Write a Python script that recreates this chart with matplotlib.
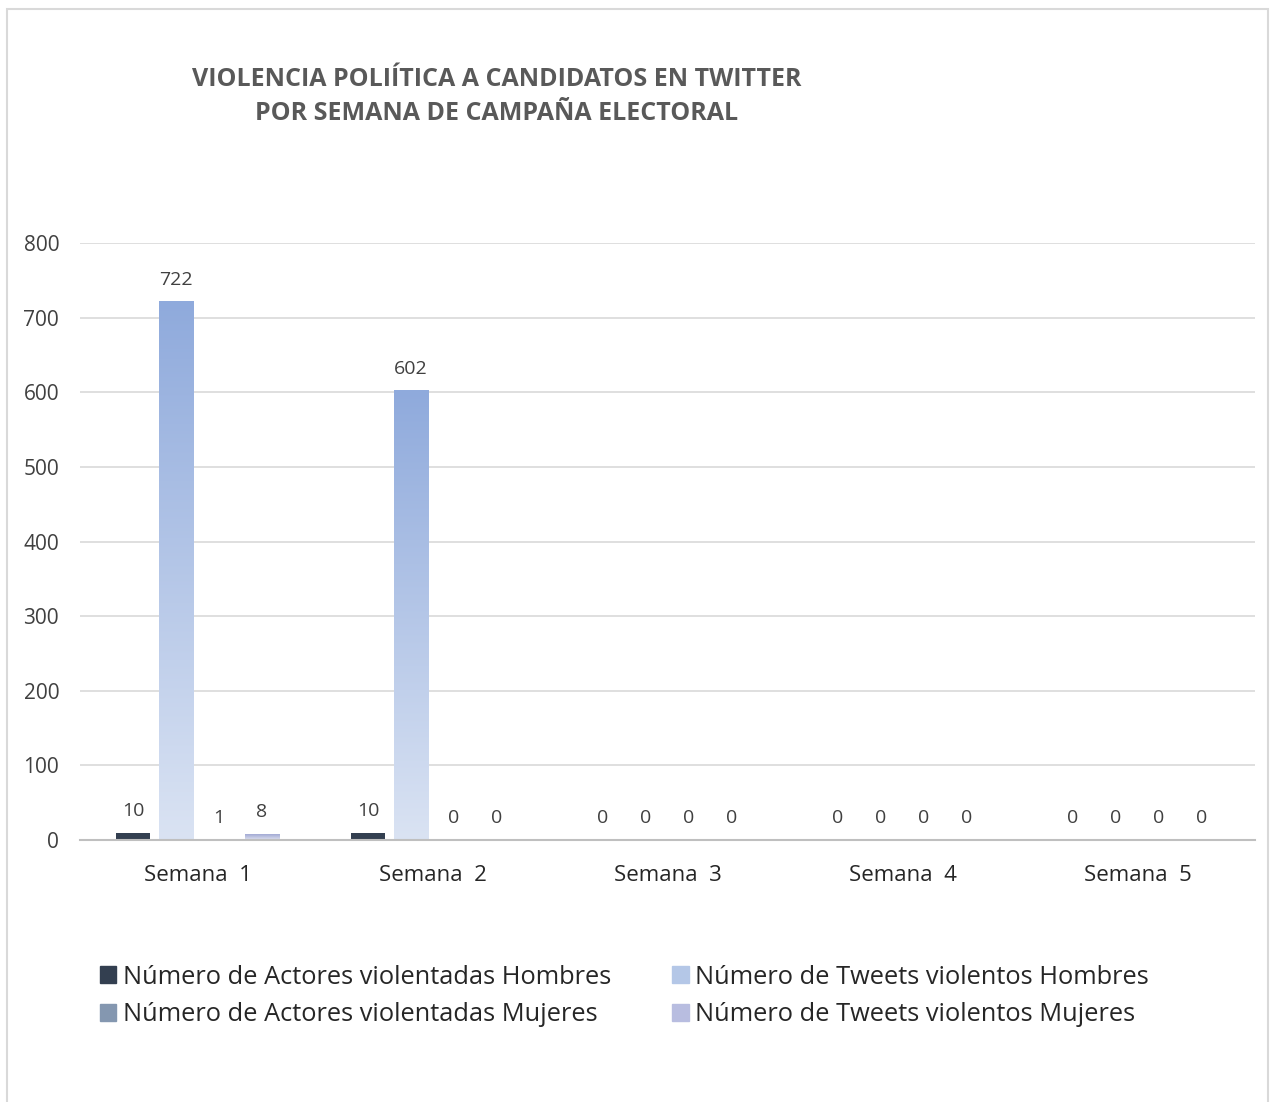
import matplotlib.pyplot as plt
import numpy as np
from matplotlib.patches import Rectangle

plt.rcParams['font.family'] = ['Open Sans', 'DejaVu Sans']

semanas = ['Semana  1', 'Semana  2', 'Semana  3', 'Semana  4', 'Semana  5']
actores_hombres = [10, 10, 0, 0, 0]
tweets_hombres = [722, 602, 0, 0, 0]
actores_mujeres = [1, 0, 0, 0, 0]
tweets_mujeres = [8, 0, 0, 0, 0]
series_names = ['Número de Actores violentadas Hombres', 'Número de Tweets violentos Hombres',
                'Número de Actores violentadas Mujeres', 'Número de Tweets violentos Mujeres']

W, H = 1271, 1102
fig = plt.figure(figsize=(W / 100, H / 100), dpi=100)
ax = fig.add_axes([80 / W, 1 - 840 / H, 1175 / W, 597 / H])

# outer chart border
fig.patches.append(Rectangle((7 / W, -0.05), 1261 / W, 1 - 9 / H + 0.05, transform=fig.transFigure,
                             fill=False, edgecolor='#d9d9d9', linewidth=1.5))

x = np.arange(len(semanas))
bw = 0.145
step = 0.183
offs = [-1.5 * step, -0.5 * step, 0.5 * step, 1.5 * step]
data = [actores_hombres, tweets_hombres, actores_mujeres, tweets_mujeres]
solid = ['#333f50', None, '#8497b0', None]
grads = [None, ('#8faadc', '#dae3f3'), None, ('#a1a9d3', '#dfe2f1')]

def grad_img(top, bottom):
    t = np.array(plt.matplotlib.colors.to_rgb(top))
    b = np.array(plt.matplotlib.colors.to_rgb(bottom))
    f = np.linspace(0, 1, 256)[:, None]
    return (t * (1 - f) + b * f)[:, None, :]

for i, vals in enumerate(data):
    if solid[i]:
        bars = ax.bar(x + offs[i], vals, bw, color=solid[i], zorder=2)
    else:
        bars = ax.bar(x + offs[i], vals, bw, color='none', zorder=2)
        img = grad_img(*grads[i])
        for b in bars:
            if b.get_height() > 0:
                xl, yb = b.get_x(), b.get_y()
                ax.imshow(img, extent=[xl, xl + b.get_width(), yb, yb + b.get_height()],
                          aspect='auto', zorder=2, interpolation='bicubic')
    for xi, v in zip(x + offs[i], vals):
        ax.text(xi, v + 17, str(v), ha='center', va='bottom', fontsize=14, color='#404040')

ax.set_xlim(-0.5, 4.5)
ax.set_ylim(0, 800)
ax.set_yticks(range(0, 801, 100))
ax.set_xticks(x)
ax.set_xticklabels(semanas, fontsize=16, color='#262626')
ax.tick_params(axis='y', labelsize=15, labelcolor='#404040', length=0, pad=15)
ax.tick_params(axis='x', length=0, pad=18)
ax.grid(axis='y', color='#d9d9d9', linewidth=1.2, zorder=0)
ax.set_axisbelow(True)
for s in ['top', 'right', 'left']:
    ax.spines[s].set_visible(False)
ax.spines['bottom'].set_color('#bfbfbf')
ax.spines['bottom'].set_linewidth(1.5)

fig.text(497 / W, 1 - 79 / H, 'VIOLENCIA POLIÍTICA A CANDIDATOS EN TWITTER', ha='center', va='center',
         fontsize=18, fontweight='bold', color='#595959')
fig.text(497 / W, 1 - 114 / H, 'POR SEMANA DE CAMPAÑA ELECTORAL', ha='center', va='center',
         fontsize=18, fontweight='bold', color='#595959')

handles = [Rectangle((0, 0), 1, 1, color='#333f50'), Rectangle((0, 0), 1, 1, color='#b4c7e7'),
           Rectangle((0, 0), 1, 1, color='#8497b0'), Rectangle((0, 0), 1, 1, color='#b8bde0')]
order = [0, 2, 1, 3]
fig.legend([handles[k] for k in order], [series_names[k] for k in order], ncol=2,
           loc='center left', bbox_to_anchor=(77 / W, 1 - 996 / H), frameon=False,
           fontsize=18.3, handlelength=0.65, handleheight=0.65, handletextpad=0.25,
           columnspacing=2.4, labelspacing=0.5, labelcolor='#262626')

fig.savefig('out.png', dpi=100)
